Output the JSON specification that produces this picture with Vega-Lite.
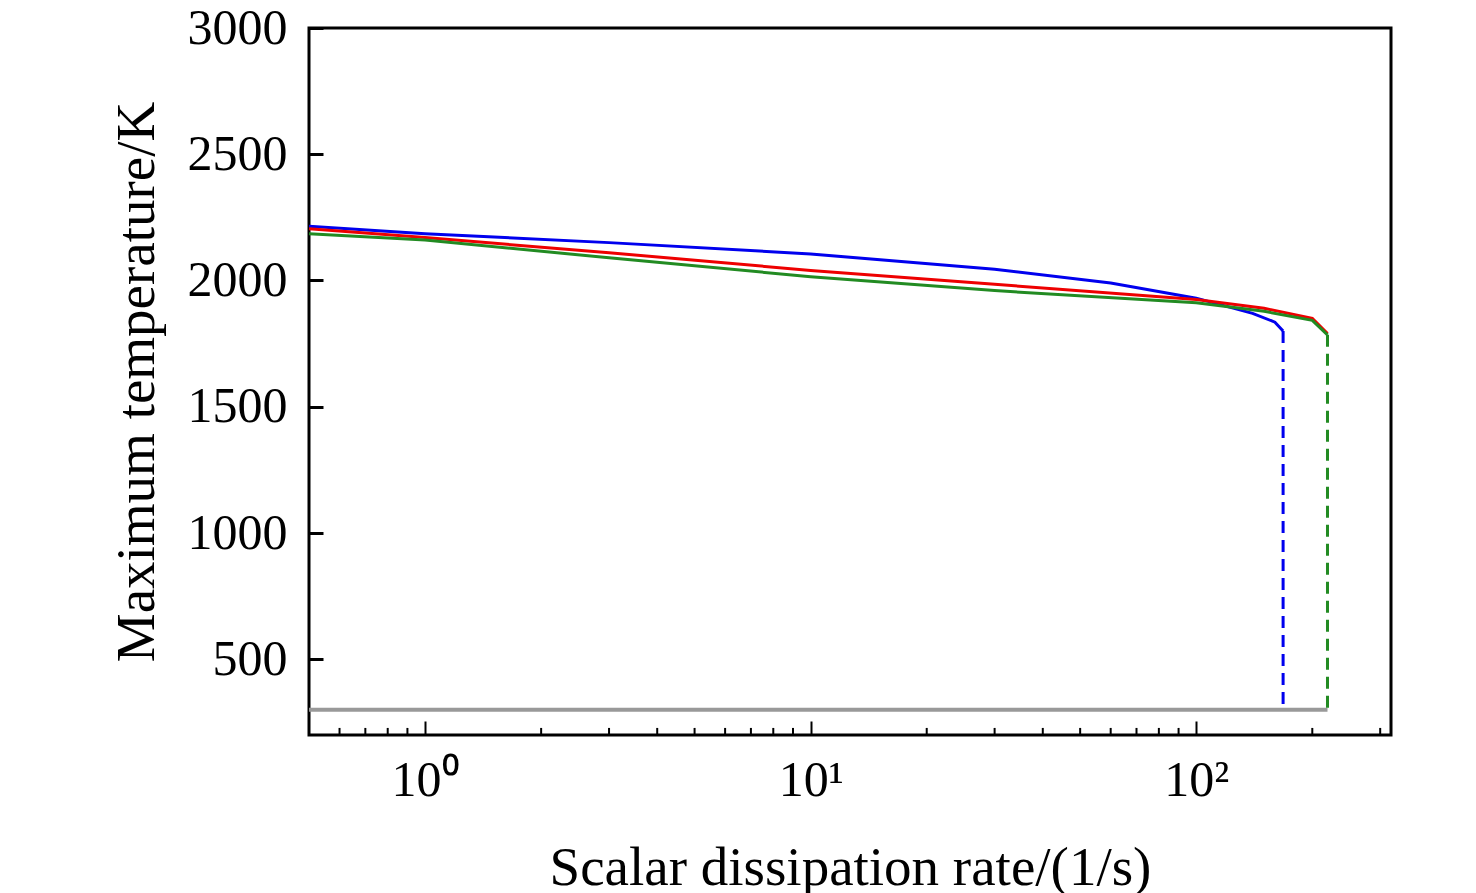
{
  "$schema": "https://vega.github.io/schema/vega-lite/v6.json",
  "autosize": "none",
  "width": 1082,
  "height": 707,
  "padding": {"left": 309, "top": 28, "right": 85, "bottom": 158},
  "background": "white",
  "config": {
    "font": "Liberation Serif",
    "view": {"stroke": "black", "strokeWidth": 3},
    "axis": {"domain": false, "grid": false, "tickColor": "black", "labelColor": "black", "titleColor": "black", "labelFont": "Liberation Serif", "titleFont": "Liberation Serif", "labelFontSize": 50, "titleFontSize": 55, "titleFontWeight": "normal"}
  },
  "datasets": {
    "curves": [
      {"series": "Smooke", "x": 0.5, "T": 2215}, {"series": "Smooke", "x": 1, "T": 2185}, {"series": "Smooke", "x": 3, "T": 2150}, {"series": "Smooke", "x": 10, "T": 2105}, {"series": "Smooke", "x": 30, "T": 2045}, {"series": "Smooke", "x": 60, "T": 1990}, {"series": "Smooke", "x": 100, "T": 1930}, {"series": "Smooke", "x": 140, "T": 1870}, {"series": "Smooke", "x": 160, "T": 1835}, {"series": "Smooke", "x": 168, "T": 1800},
      {"series": "GRI 3.0", "x": 0.5, "T": 2205}, {"series": "GRI 3.0", "x": 1, "T": 2170}, {"series": "GRI 3.0", "x": 3, "T": 2110}, {"series": "GRI 3.0", "x": 10, "T": 2040}, {"series": "GRI 3.0", "x": 30, "T": 1985}, {"series": "GRI 3.0", "x": 100, "T": 1925}, {"series": "GRI 3.0", "x": 150, "T": 1890}, {"series": "GRI 3.0", "x": 200, "T": 1850}, {"series": "GRI 3.0", "x": 219, "T": 1790},
      {"series": "DRG", "x": 0.5, "T": 2185}, {"series": "DRG", "x": 1, "T": 2160}, {"series": "DRG", "x": 3, "T": 2090}, {"series": "DRG", "x": 10, "T": 2015}, {"series": "DRG", "x": 30, "T": 1960}, {"series": "DRG", "x": 100, "T": 1912}, {"series": "DRG", "x": 150, "T": 1878}, {"series": "DRG", "x": 200, "T": 1842}, {"series": "DRG", "x": 219, "T": 1785}
    ],
    "drops": [
      {"series": "Smooke", "x": 168, "T": 1800}, {"series": "Smooke", "x": 168, "T": 300},
      {"series": "DRG", "x": 219, "T": 1785}, {"series": "DRG", "x": 219, "T": 300}
    ],
    "base": [{"x": 0.5, "T": 300}, {"x": 219, "T": 300}],
    "minor": [{"x": 0.6}, {"x": 0.7}, {"x": 0.8}, {"x": 0.9}, {"x": 2}, {"x": 3}, {"x": 4}, {"x": 5}, {"x": 6}, {"x": 7}, {"x": 8}, {"x": 9}, {"x": 20}, {"x": 30}, {"x": 40}, {"x": 50}, {"x": 60}, {"x": 70}, {"x": 80}, {"x": 90}, {"x": 200}, {"x": 300}]
  },
  "layer": [
    {
      "data": {"name": "base"},
      "mark": {"type": "line", "color": "#999999", "strokeWidth": 4},
      "encoding": {
        "x": {"field": "x", "type": "quantitative", "scale": {"type": "log", "domain": [0.5, 320], "nice": false}, "title": "Scalar dissipation rate/(1/s)", "axis": {"values": [1, 10, 100], "labelExpr": "datum.value == 1 ? '10⁰' : datum.value == 10 ? '10¹' : '10²'", "tickSize": -14, "tickWidth": 2, "labelPadding": 34, "titlePadding": 36}},
        "y": {"field": "T", "type": "quantitative", "scale": {"domain": [200, 3000], "nice": false}, "title": "Maximum temperature/K", "axis": {"values": [500, 1000, 1500, 2000, 2500, 3000], "format": "d", "tickSize": -14, "tickWidth": 3, "labelPadding": 36, "titlePadding": 22}}
      }
    },
    {
      "data": {"name": "minor"},
      "mark": {"type": "rule", "color": "black", "strokeWidth": 2},
      "encoding": {
        "x": {"field": "x", "type": "quantitative"},
        "y": {"datum": 200},
        "y2": {"datum": 228}
      }
    },
    {
      "data": {"name": "drops"},
      "mark": {"type": "line", "strokeWidth": 3, "strokeDash": [12, 7]},
      "encoding": {
        "x": {"field": "x", "type": "quantitative"},
        "y": {"field": "T", "type": "quantitative"},
        "detail": {"field": "series"},
        "color": {"field": "series", "type": "nominal", "scale": {"domain": ["Smooke", "GRI 3.0", "DRG"], "range": ["#0000ee", "#ee0000", "#228b22"]}, "legend": null}
      }
    },
    {
      "data": {"name": "curves"},
      "mark": {"type": "line", "strokeWidth": 3},
      "encoding": {
        "x": {"field": "x", "type": "quantitative"},
        "y": {"field": "T", "type": "quantitative"},
        "color": {"field": "series", "type": "nominal", "scale": {"domain": ["Smooke", "GRI 3.0", "DRG"], "range": ["#0000ee", "#ee0000", "#228b22"]}, "legend": {"title": null, "orient": "top-right", "offset": 18, "symbolType": "stroke", "symbolSize": 1500, "symbolStrokeWidth": 4, "labelFontSize": 48, "labelFont": "Liberation Serif", "labelColor": "black", "rowPadding": 32, "labelOffset": 22}}
      }
    }
  ]
}
